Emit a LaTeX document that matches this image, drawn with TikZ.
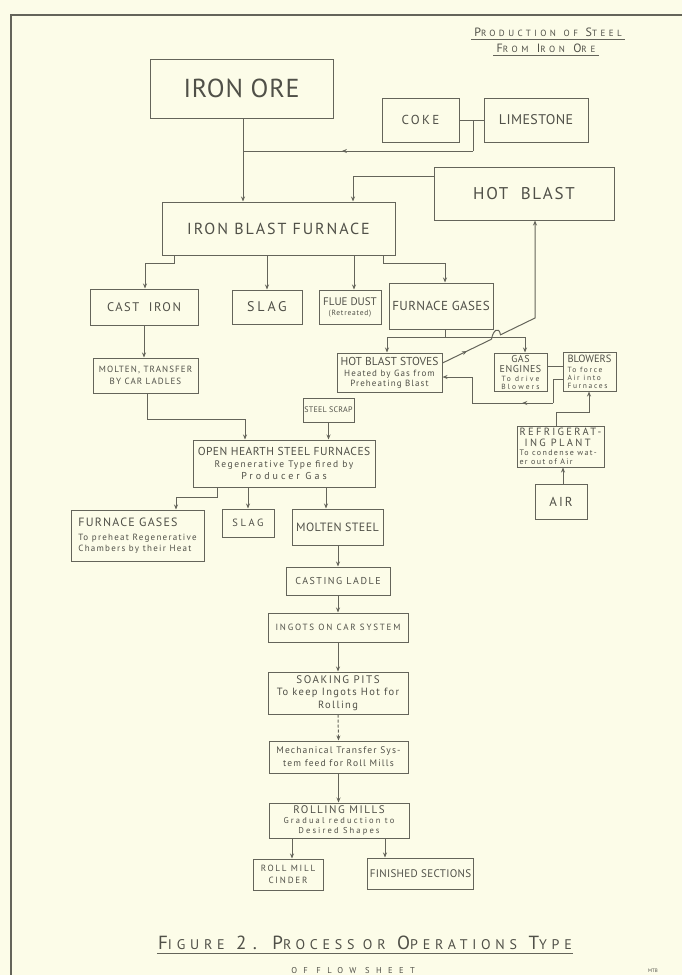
\documentclass[tikz,border=0pt]{standalone}
\usepackage{fontspec}
\setmainfont{PT Sans}
\usetikzlibrary{arrows.meta,decorations.markings}
\definecolor{bg}{RGB}{252,252,232}
\definecolor{lc}{RGB}{100,100,90}
\definecolor{tc}{RGB}{80,80,72}
\newcommand\fz[2]{\fontsize{#1}{#2}\selectfont}
\newcommand\smc[2][7.5]{{\fontsize{#1}{#1}\selectfont #2}}
\newcommand\ls[1]{\addfontfeature{LetterSpace=#1}}
\tikzset{
  box/.style={draw=lc, line width=1pt, inner sep=2pt, align=center, text=tc, font=\fz{8}{9}},
  conn/.style={draw=lc, line width=1pt},
  arr/.style={conn, -{Stealth[length=5pt,width=4pt]}},
  midarrow/.style={postaction={decorate}, decoration={markings, mark=at position #1 with {\arrow[lc]{Stealth[length=5pt,width=4pt]}}}},
  midarrow/.default=0.5,
  ttl/.style={text=tc, inner sep=1pt},
}
\begin{document}
\begin{tikzpicture}[x=1pt,y=-1pt]
\fill[bg] (0,0) rectangle (682,975);
\useasboundingbox (0,0) rectangle (682,975);
\draw[conn, line width=1.3pt] (11,975) -- (11,15) -- (682,15);

% titles
\node[ttl] (t1) at (548,32) {\fz{12}{13}\ls{38}P\smc[9]{RODUCTION} \smc[9]{OF} S\smc[9]{TEEL}};
\draw[conn, line width=0.8pt] ([xshift=-2pt,yshift=-2pt]t1.south west) -- ([xshift=2pt,yshift=-2pt]t1.south east);
\node[ttl] (t2) at (546,48) {\fz{12}{13}\ls{42}F\smc[9]{ROM} I\smc[9]{RON} O\smc[9]{RE}};
\draw[conn, line width=0.8pt] ([xshift=-2pt,yshift=-2pt]t2.south west) -- ([xshift=2pt,yshift=-2pt]t2.south east);

% boxes
\node[box,minimum width=183pt,minimum height=59pt] (ironore) at (241.5,88.5) {\fz{26}{28}\ls{3}IRON ORE};
\node[box,minimum width=77pt,minimum height=44pt] (coke) at (420.5,120) {\fz{13}{14}\ls{18}COKE};
\node[box,minimum width=104pt,minimum height=44pt] (limestone) at (536,120) {\fz{14}{15}\ls{3}LIMESTONE};
\node[box,minimum width=180pt,minimum height=53pt] (hotblast) at (524,193.5) {\fz{17}{18}\ls{10}HOT\ \ BLAST};
\node[box,minimum width=233pt,minimum height=53pt] (ibf) at (278.5,228.5) {\fz{16}{17}\ls{12}IRON BLAST FURNACE};
\node[box,minimum width=108pt,minimum height=36pt] (castiron) at (144,307) {\fz{12.5}{13}\ls{12}CAST\ \ IRON};
\node[box,minimum width=70pt,minimum height=34pt] (slag1) at (267,307) {\fz{14}{14}\ls{20}SLAG};
\node[box,minimum width=62pt,minimum height=34pt,inner sep=1pt] (fluedust) at (350,307) {\fz{11}{11}FLUE DUST\\[1pt]\fz{7.5}{8}\ls{10}(Retreated)};
\node[box,minimum width=104pt,minimum height=46pt] (furngas1) at (441,306) {\fz{13}{14}\ls{3}FURNACE GASES};
\node[box,minimum width=105pt,minimum height=39pt,inner sep=1pt] (hbs) at (389.5,372.5) {\fz{11.5}{12}HOT BLAST STOVES\\[2pt]\fz{9}{9}\ls{12}Heated by Gas from\\[1pt]\fz{9}{9}\ls{12}Preheating Blast};
\node[box,minimum width=53pt,minimum height=38pt,inner sep=1pt,font=\fz{7}{8}] (gasengines) at (520.5,372) {\fz{10}{10}\ls{5}GAS\\[2.5pt]\fz{10}{10}\ls{5}ENGINES\\[0.5pt]\fz{7.5}{7.5}\ls{28}To drive\\\fz{7.5}{7.5}\ls{28}Blowers};
\node[box,minimum width=53pt,minimum height=39pt,inner sep=1pt,align=left,font=\fz{7}{8}] (blowers) at (589.5,371.5) {\fz{10.5}{11}BLOWERS\\[2pt]\fz{7.5}{7.5}\ls{22}To force\\\fz{7.5}{7.5}\ls{22}Air into\\\fz{7.5}{7.5}\ls{22}Furnaces};
\node[box,minimum width=87pt,minimum height=41pt,inner sep=1pt,align=left,font=\fz{7}{8.5}] (refrig) at (560.5,446.5) {\fz{10.5}{10}\ls{22}REFRIGERAT-\\[2.5pt]\fz{10.5}{10}\ls{22}\ ING PLANT\\[0.5pt]\fz{8}{8}\ls{17}To condense wat-\\\fz{8}{8}\ls{17}er out of Air};
\node[box,minimum width=52pt,minimum height=35pt] (air) at (561,501.5) {\fz{13}{13}\ls{15}AIR};
\node[box,minimum width=105pt,minimum height=35pt,inner sep=1pt] (mtransfer) at (145.5,375.5) {\fz{9}{11}\ls{12}MOLTEN, TRANSFER\\[3pt]\fz{9}{11}\ls{12}BY CAR LADLES};
\node[box,minimum width=51pt,minimum height=24pt,inner sep=1pt] (steelscrap) at (328.5,410) {\fz{8}{9}\ls{3}STEEL SCRAP};
\node[box,minimum width=182pt,minimum height=47pt,inner sep=1pt] (ohsf) at (284,463.5) {\fz{11.5}{13}\ls{4}OPEN HEARTH STEEL FURNACES\\[3pt]\fz{9.5}{10}\ls{16}Regenerative Type fired by\\[2pt]\fz{10}{10}\ls{30}Producer Gas};
\node[box,minimum width=133pt,minimum height=51pt,inner sep=1pt,align=left] (furngas2) at (137.5,535.5) {\fz{12}{15}\ls{10}FURNACE GASES\\[5pt]\fz{9}{9.5}\ls{14}To preheat Regenerative\\[1.5pt]\fz{9}{9.5}\ls{14}Chambers by their Heat};
\node[box,minimum width=52pt,minimum height=28pt] (slag2) at (248,523) {\fz{10.5}{11}\ls{25}SLAG};
\node[box,minimum width=91pt,minimum height=36pt] (moltensteel) at (337.5,527) {\fz{12}{12}\ls{3}MOLTEN STEEL};
\node[box,minimum width=104pt,minimum height=28pt] (castingladle) at (338,581) {\fz{10}{10}\ls{15}CASTING LADLE};
\node[box,minimum width=140pt,minimum height=29pt] (ingots) at (338,627.5) {\fz{9}{9}\ls{20}INGOTS ON CAR SYSTEM};
\node[box,minimum width=140pt,minimum height=42pt,inner sep=1pt] (soaking) at (338,693) {\fz{11}{12}\ls{14}SOAKING PITS\\[3pt]\fz{10.5}{11}\ls{13}To keep Ingots Hot for\\[2pt]\fz{10.5}{11}\ls{13}Rolling};
\node[box,minimum width=139pt,minimum height=32pt] (mech) at (338.5,757) {\fz{9.5}{12}\ls{12}Mechanical Transfer Sys-\\[4pt]\fz{9.5}{12}\ls{12}tem feed for Roll Mills};
\node[box,minimum width=140pt,minimum height=35pt,inner sep=1pt] (rolling) at (339,820.5) {\fz{11}{10}\ls{14}ROLLING MILLS\\[1pt]\fz{8.5}{8.5}\ls{25}Gradual reduction to\\[0.5pt]\fz{8.5}{8.5}\ls{25}Desired Shapes};
\node[box,minimum width=70pt,minimum height=31pt] (cinder) at (288,874.5) {\fz{9}{11}\ls{20}ROLL MILL\\[3pt]\fz{9}{11}\ls{20}CINDER};
\node[box,minimum width=105pt,minimum height=31pt] (finished) at (420.5,873.5) {\fz{11}{11}\ls{3}FINISHED SECTIONS};

% coordinates
\coordinate (cl) at (473,120);
\coordinate (cl2) at (473,151);
\coordinate (io2) at (243,151);
\coordinate (hb2) at (353,176);
\coordinate (dA) at (442,363);
\coordinate (h1) at (491.5,339.2);
\coordinate (h2) at (500.5,334.8);
\coordinate (dB) at (535,318);
\coordinate (fgj) at (445,337);
\coordinate (fgl) at (387,337);
\coordinate (fgr) at (525,337);
\coordinate (ge) at (550,366);
\coordinate (b1) at (553,379);
\coordinate (b2) at (553,403);
\coordinate (b3) at (472,403);
\coordinate (b4) at (472,377);
\coordinate (r1) at (556,412);
\coordinate (r2) at (589,412);
\coordinate (a1) at (563,475);
\coordinate (i1) at (174,263);
\coordinate (i2) at (145,263);
\coordinate (fd) at (354,270);
\coordinate (i3) at (383,263);
\coordinate (i4) at (445,263);
\coordinate (m1) at (147,419);
\coordinate (m2) at (245,419);
\coordinate (o1) at (217,497);
\coordinate (o2) at (176,497);
\coordinate (o3) at (326,500);
\coordinate (f1) at (385,848);
\coordinate (c1) at (292,848);

% connectors
\draw[conn] (coke.east) -- (limestone.west);
\draw[conn] (cl) -- (cl2);
\draw[conn, midarrow=0.57] (cl2) -- (io2);
\draw[arr] (ironore.south -| io2) -- (ibf.north -| io2);
\draw[arr] (hotblast.west |- hb2) -- (hb2) -- (hb2 |- ibf.north);
\draw[conn, midarrow=0.5] (hbs.east |- dA) -- (h1);
\draw[arr] (h1) .. controls (493,330) and (499,326) .. (h2) -- (dB) -- (hotblast.south -| dB);
\draw[conn] (furngas1.south -| fgj) -- (fgj);
\draw[arr] (fgj) -- (fgl) -- (fgl |- hbs.north);
\draw[arr] (fgj) -- (fgr) -- (fgr |- gasengines.north);
\draw[conn] (gasengines.east |- ge) -- (blowers.west |- ge);
\draw[conn] (blowers.west |- b1) -- (b1) -- (b2);
\draw[conn, midarrow=0.38] (b2) -- (b3);
\draw[arr] (b3) -- (b4) -- (hbs.east |- b4);
\draw[arr] (refrig.north -| r1) -- (r1) -- (r2) -- (r2 |- blowers.south);
\draw[arr] (air.north -| a1) -- (a1 |- refrig.south);
\draw[arr] (ibf.south -| i1) -- (i1) -- (i2) -- (i2 |- castiron.north);
\draw[arr] (ibf.south -| slag1) -- (slag1.north);
\draw[arr] (ibf.south -| fd) -- (fd |- fluedust.north);
\draw[arr] (ibf.south -| i3) -- (i3) -- (i4) -- (i4 |- furngas1.north);
\draw[arr] (castiron.south) -- (castiron.south |- mtransfer.north);
\draw[arr] (mtransfer.south -| m1) -- (m1) -- (m2) -- (m2 |- ohsf.north);
\draw[arr] (steelscrap.south) -- (steelscrap.south |- ohsf.north);
\draw[arr] (ohsf.south -| o1) -- (o1) -- (o2) -- (o2 |- furngas2.north);
\draw[arr] (ohsf.south -| slag2) -- (slag2.north);
\draw[arr] (ohsf.south -| o3) -- (o3 |- moltensteel.north);
\draw[arr] (moltensteel.south -| castingladle) -- (castingladle.north);
\draw[arr] (castingladle.south) -- (ingots.north);
\draw[arr] (ingots.south) -- (soaking.north);
\draw[arr, densely dashed] (soaking.south) -- (mech.north);
\draw[arr] (mech.south) -- (mech.south |- rolling.north);
\draw[arr] (rolling.south -| c1) -- (c1 |- cinder.north);
\draw[arr] (rolling.south -| f1) -- (f1 |- finished.north);

% bottom titles
\node[ttl] (t3) at (365,943) {\fz{19}{20}\ls{34}F\smc[14]{IGURE} 2. P\smc[14]{ROCESS OR} O\smc[14]{PERATIONS} T\smc[14]{YPE}};
\draw[conn, line width=0.9pt] ([yshift=-2pt]t3.south west) -- ([yshift=-2pt]t3.south east);
\node[ttl] (t4) at (353,971) {\fz{8.5}{9}\ls{75}OF FLOW SHEET};
\node[ttl] (t5) at (653,971) {\fz{5}{6}MTB};
\end{tikzpicture}
\end{document}
